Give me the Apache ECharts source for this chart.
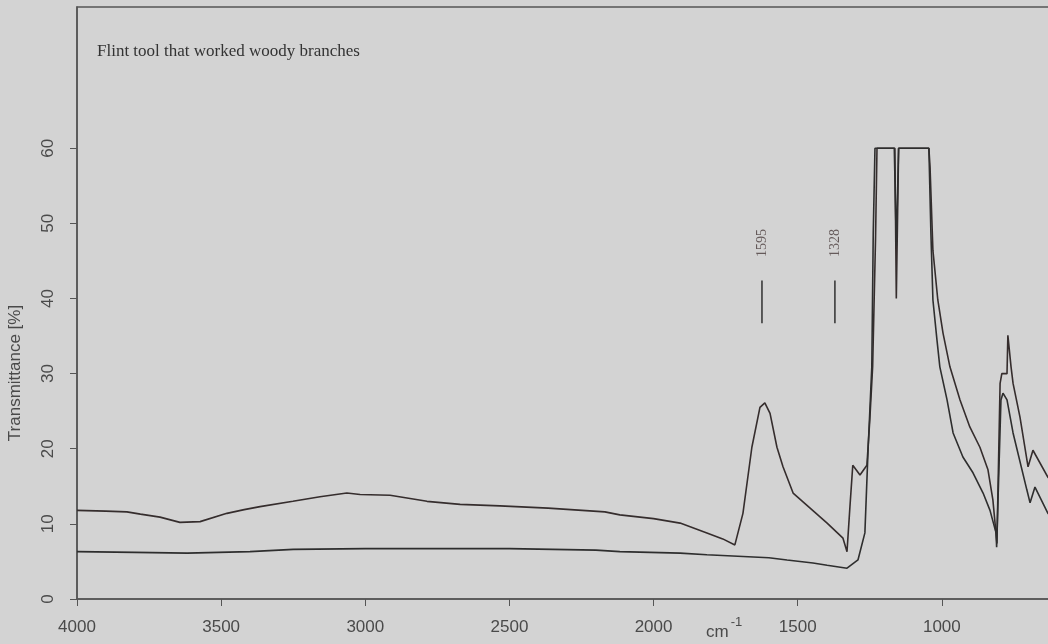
<!DOCTYPE html>
<html>
<head>
<meta charset="utf-8">
<script src="https://cdn.jsdelivr.net/npm/echarts@6/dist/echarts.min.js"></script>
<style>
  html, body { margin: 0; padding: 0; background: #d3d3d3; }
  #main { width: 1048px; height: 644px; }
</style>
</head>
<body>
<div id="main"></div>
<script>
// spectrum with the 1595 / 1328 bands (upper trace)
var waveA = [4000, 3900, 3827, 3780, 3712, 3643, 3573, 3480, 3420, 3365, 3251, 3157, 3064, 3018, 2914, 2850, 2786, 2671, 2533, 2366, 2169, 2117, 2000, 1908, 1815, 1760, 1718,
  1690, 1659, 1631, 1614, 1596, 1572, 1551, 1516, 1457, 1398, 1343, 1329, 1319, 1309, 1284, 1260, 1250, 1240, 1230, 1225,
  1163, 1158, 1150, 1045, 1041, 1031, 1014, 996, 972, 937, 903, 868, 840, 823, 809, 798, 792, 774, 771, 760, 753, 729, 701, 684, 632, 600];
var transA = [11.8, 11.7, 11.6, 11.3, 10.9, 10.2, 10.3, 11.4, 11.9, 12.3, 13.0, 13.6, 14.1, 13.9, 13.8, 13.4, 13.0, 12.6, 12.4, 12.1, 11.6, 11.2, 10.7, 10.1, 8.8, 8.0, 7.2,
  11.4, 20.2, 25.5, 26.1, 24.7, 20.2, 17.6, 14.1, 12.1, 10.1, 8.1, 6.3, 12.2, 17.8, 16.5, 17.8, 23.8, 31.0, 48.0, 60,
  60, 40, 60, 60, 57.5, 46.4, 39.8, 35.4, 30.9, 26.5, 22.9, 20.2, 17.2, 13.2, 7.4, 28.7, 30.0, 30.0, 35.1, 30.9, 28.7, 24.2, 17.6, 19.8, 16.2, 15.0];

// lower trace
var waveB = [4000, 3800, 3618, 3400, 3250, 3000, 2800, 2500, 2200, 2117, 1908, 1815, 1600, 1537, 1447, 1398, 1329, 1291, 1267, 1256, 1243, 1238, 1232,
  1165, 1158, 1150, 1045, 1038, 1031, 1017, 1007, 982, 961, 927, 892, 857, 833, 812, 810, 795, 788, 774, 753, 705, 694, 677, 632, 600];
var transB = [6.3, 6.2, 6.1, 6.3, 6.6, 6.7, 6.7, 6.7, 6.5, 6.3, 6.1, 5.9, 5.5, 5.2, 4.8, 4.5, 4.1, 5.2, 8.8, 19.8, 30.9, 48.7, 60,
  60, 47, 60, 60, 48.7, 39.8, 34.5, 30.9, 26.5, 22.1, 18.9, 16.8, 14.1, 11.8, 8.8, 6.9, 26.5, 27.4, 26.5, 22.1, 14.5, 12.8, 14.9, 11.4, 10.5];

// band markers
var markerWave = [1624, 1371];
var markerText = ['1595', '1328'];
var markerLow = 36.7;
var markerHigh = 42.4;
var markerLabelY = 47.4;

var yTicks = [0, 10, 20, 30, 40, 50, 60];

function zip(xs, ys) {
  var out = [];
  for (var i = 0; i < xs.length; i++) out.push([xs[i], ys[i]]);
  return out;
}

var series = [
  { type: 'line', data: zip(waveA, transA), showSymbol: false, symbol: 'none', lineStyle: { color: '#352d2d', width: 1.6 } },
  { type: 'line', data: zip(waveB, transB), showSymbol: false, symbol: 'none', lineStyle: { color: '#2e2e2e', width: 1.6 } }
];
for (var i = 0; i < markerWave.length; i++) {
  series.push({ type: 'line', data: [[markerWave[i], markerLow], [markerWave[i], markerHigh]], symbol: 'none',
    lineStyle: { color: '#3a3a3a', width: 1.6 } });
  series.push({ type: 'scatter', data: [[markerWave[i], markerLabelY, markerText[i]]], symbolSize: 1,
    itemStyle: { color: 'rgba(0,0,0,0)' },
    label: { show: true, position: 'inside', rotate: 90, formatter: function (p) { return p.data[2]; },
      fontFamily: 'Liberation Serif', fontSize: 14, color: '#4a3c3c' } });
}

var axisFont = { fontFamily: 'Liberation Sans Narrow, Liberation Sans, sans-serif', fontSize: 17, color: '#4a4a4a',
  formatter: function (v) { return String(v); } };

var chart = echarts.init(document.getElementById('main'));
chart.setOption({
  backgroundColor: '#d3d3d3',
  animation: false,
  grid: { left: 77, top: 7, width: 1009, bottom: 45, show: true, borderColor: '#555', borderWidth: 1.5,
    backgroundColor: 'transparent', outerBoundsMode: 'none' },
  xAxis: {
    type: 'value', inverse: true, min: 500, max: 4000, interval: 500,
    axisLine: { lineStyle: { color: '#555', width: 1.5 } },
    axisTick: { show: true, inside: false, length: 7, lineStyle: { color: '#555' } },
    axisLabel: Object.assign({ margin: 20 }, axisFont),
    splitLine: { show: false }
  },
  yAxis: {
    type: 'value', min: 0, max: 78.8, interval: 10,
    axisLine: { show: true, lineStyle: { color: '#555', width: 1.5 } },
    axisTick: { show: true, length: 7, lineStyle: { color: '#555' }, customValues: yTicks },
    axisLabel: Object.assign({ rotate: 90, margin: 20, customValues: yTicks }, axisFont),
    splitLine: { show: false }
  },
  graphic: [
    { type: 'text', left: 97, top: 43, style: { text: 'Flint tool that worked woody branches',
      font: '17px "Liberation Serif"', fill: '#333' } },
    { type: 'text', x: 15, y: 373, rotation: Math.PI / 2, style: { text: 'Transmittance [%]',
      font: '17px "Liberation Sans Narrow", "Liberation Sans"', fill: '#4a4a4a', align: 'center', verticalAlign: 'middle' } },
    { type: 'text', left: 706, top: 616, style: {
      text: '{a|cm}{b|-1}',
      rich: {
        a: { fontFamily: 'Liberation Sans Narrow, Liberation Sans', fontSize: 17, fill: '#4a4a4a', padding: [8, 0, 0, 0] },
        b: { fontFamily: 'Liberation Sans Narrow, Liberation Sans', fontSize: 13, fill: '#4a4a4a', verticalAlign: 'top', padding: [0, 0, 8, 2] }
      } } }
  ],
  series: series
});
</script>
</body>
</html>
